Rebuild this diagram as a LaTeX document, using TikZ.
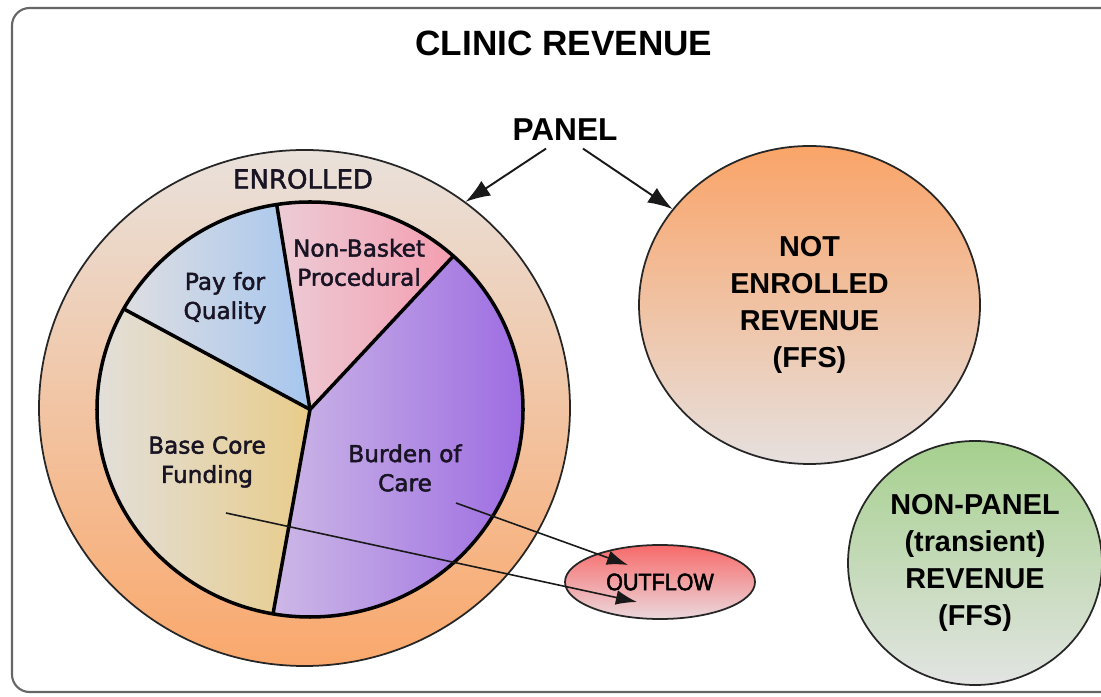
\documentclass[tikz,border=0pt]{standalone}
\usepackage{fontspec}
\setmainfont{Liberation Sans}
\newfontfamily\piefont{DejaVu Sans}[BoldFont={}, AutoFakeBold=2]
\newfontfamily\narrowfont{Liberation Sans}[FakeStretch=0.9, BoldFont={}, AutoFakeBold=2.2]
\usetikzlibrary{shapes.geometric,arrows.meta,positioning}

\definecolor{ringtop}{RGB}{233,225,219}
\definecolor{ringbot}{RGB}{250,168,108}
\definecolor{qualleft}{RGB}{222,222,226}
\definecolor{qualright}{RGB}{166,198,238}
\definecolor{nbleft}{RGB}{236,204,214}
\definecolor{nbright}{RGB}{244,158,176}
\definecolor{burdleft}{RGB}{204,184,230}
\definecolor{burdright}{RGB}{156,106,226}
\definecolor{baseleft}{RGB}{226,224,222}
\definecolor{baseright}{RGB}{232,204,138}
\definecolor{netop}{RGB}{250,164,104}
\definecolor{nebot}{RGB}{230,224,222}
\definecolor{nptop}{RGB}{166,208,142}
\definecolor{npbot}{RGB}{226,228,226}
\definecolor{outtop}{RGB}{248,106,106}
\definecolor{outbot}{RGB}{234,216,220}
\definecolor{pieink}{RGB}{24,20,36}

\tikzset{
  bigtitle/.style={font=\fontsize{10}{12}\selectfont\bfseries},
  revtext/.style={font=\fontsize{8.2}{10.6}\selectfont\bfseries, align=center},
  pietext/.style={font=\piefont\fontsize{6.6}{8.3}\selectfont\bfseries, align=center, text=pieink},
  pool/.style={ellipse, draw=black!85, line width=0.5pt, inner sep=0pt},
  flow/.style={-{Latex[length=6pt,width=4.2pt]}, line width=0.45pt, draw=black!90},
}

\begin{document}
\begin{tikzpicture}
  \useasboundingbox (0,0) rectangle (11.01,-6.97);
  \draw[rounded corners=5pt, draw=black!60, line width=0.6pt] (0.12,-0.08) rectangle (11.4,-6.92);

  % headings
  \node[bigtitle] (title) at (5.64,-0.43) {CLINIC REVENUE};
  \node[font=\fontsize{9}{11}\selectfont\bfseries, inner sep=2pt] (panel) at (5.65,-1.30) {PANEL};

  % enrolled ring with the pie inside
  \node[pool, minimum width=5.31cm, minimum height=5.16cm, top color=ringtop, bottom color=ringbot] (enrolled) at (3.045,-4.08) {};
  \node[font=\piefont\fontsize{7.4}{9}\selectfont\bfseries, text=pieink] (enrolledlbl) at (3.03,-1.79) {ENROLLED};

  \coordinate (hub) at (3.10,-4.095);
  \shade[left color=qualleft, right color=qualright] (hub) -- ++(99:2.13 and 2.075)
    arc[start angle=99, end angle=151, x radius=2.13, y radius=2.075] -- cycle;
  \shade[left color=nbleft, right color=nbright] (hub) -- ++(47.7:2.13 and 2.075)
    arc[start angle=47.7, end angle=99, x radius=2.13, y radius=2.075] -- cycle;
  \shade[left color=burdleft, right color=burdright] (hub) -- ++(-100:2.13 and 2.075)
    arc[start angle=-100, end angle=47.7, x radius=2.13, y radius=2.075] -- cycle;
  \shade[left color=baseleft, right color=baseright] (hub) -- ++(151:2.13 and 2.075)
    arc[start angle=151, end angle=260, x radius=2.13, y radius=2.075] -- cycle;

  \draw[line width=1pt] (hub) ellipse[x radius=2.13, y radius=2.075];
  \foreach \a in {47.7,99,151,260}
    \draw[line width=1pt] (hub) -- ++(\a:2.13 and 2.075);

  \node[pietext] (quality) at (2.25,-2.98) {Pay for\\Quality};
  \node[pietext] (nonbasket) at (3.59,-2.625) {Non-Basket\\Procedural};
  \node[pietext] (basecore) at (2.07,-4.62) {Base Core\\Funding};
  \node[pietext] (burden) at (4.05,-4.68) {Burden of\\Care};

  % the other revenue pools
  \node[pool, minimum width=3.41cm, minimum height=3.18cm, top color=netop, bottom color=nebot, revtext] (notenrolled) at (8.095,-3.05) {NOT\\ENROLLED\\REVENUE\\(FFS)};
  \node[pool, minimum width=2.54cm, minimum height=2.44cm, top color=nptop, bottom color=npbot, revtext] (nonpanel) at (9.75,-5.63) {NON-PANEL\\(transient)\\REVENUE\\(FFS)};
  \node[pool, minimum width=1.90cm, minimum height=0.74cm, top color=outtop, bottom color=outbot, font=\narrowfont\fontsize{6.8}{8}\selectfont\bfseries] (outflow) at (6.60,-5.82) {OUTFLOW};

  % arrows
  \draw[flow, line width=0.55pt, -{Latex[length=7pt,width=5pt]}] ([xshift=-1.9mm]panel.south) -- (enrolled.52.7);
  \draw[flow, line width=0.55pt, -{Latex[length=7pt,width=5pt]}] ([xshift=1.8mm]panel.south) -- (notenrolled.145);

  \coordinate (burdenfrom) at (4.56,-5.03);
  \coordinate (basefrom) at (2.26,-5.13);
  \draw[flow] (burdenfrom) -- ([shift={(-0.32,0.17)}]outflow.center);
  \draw[flow] (basefrom) -- ([shift={(-0.23,-0.20)}]outflow.center);

\end{tikzpicture}
\end{document}
